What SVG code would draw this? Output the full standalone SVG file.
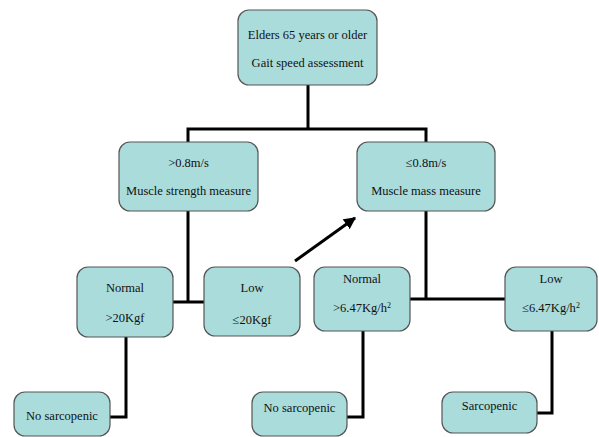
<svg xmlns="http://www.w3.org/2000/svg" width="599" height="437" viewBox="0 0 599 437">
<style>
.box{fill:#aadcdc;stroke:#555;stroke-width:1.2}
.t{font-family:'Liberation Serif','Times New Roman','DejaVu Serif',Times,serif;font-size:12.5px;fill:#111;text-anchor:middle}
.c{fill:none;stroke:#000;stroke-width:3}
</style>
<defs>
<marker id="ah" viewBox="0 0 10 10" refX="9" refY="5" markerWidth="4" markerHeight="4" orient="auto" markerUnits="strokeWidth">
<path d="M0,0 L10,5 L0,10 z" fill="#000"/>
</marker>
</defs>
<rect width="599" height="437" fill="#fff"/>
<g id="connectors">
<path class="c" d="M308,85 V129 M188,129 H426 M188,127.5 V142 M426,127.5 V142"/>
<path class="c" d="M188,211 V302 M173,302 H204"/>
<path class="c" d="M426,211 V299 M410,299 H505"/>
<path class="c" d="M126,337 V417 H110"/>
<path class="c" d="M363,331 V417 H347"/>
<path class="c" d="M552,331 V413 H537"/>
<line x1="295" y1="261" x2="355" y2="218" stroke="#000" stroke-width="3" marker-end="url(#ah)"/>
</g>
<g id="top">
<rect class="box" x="238" y="10" width="139" height="75" rx="11"/>
<text class="t" x="307.5" y="39" font-family="Liberation Serif, serif">Elders 65 years or older</text>
<text class="t" x="307.5" y="67" font-family="Liberation Serif, serif">Gait speed assessment</text>
</g>
<g id="fast">
<rect class="box" x="119" y="142" width="139" height="69" rx="11"/>
<text class="t" x="188.5" y="167">&gt;0.8m/s</text>
<text class="t" x="188.5" y="195">Muscle strength measure</text>
</g>
<g id="slow">
<rect class="box" x="357" y="142" width="138" height="69" rx="11"/>
<text class="t" x="426" y="167">≤0.8m/s</text>
<text class="t" x="426" y="195">Muscle mass measure</text>
</g>
<g id="strength-normal">
<rect class="box" x="77" y="267" width="96" height="70" rx="11"/>
<text class="t" x="125" y="292">Normal</text>
<text class="t" x="125" y="322">&gt;20Kgf</text>
</g>
<g id="strength-low">
<rect class="box" x="204" y="267" width="96" height="69" rx="11"/>
<text class="t" x="252" y="292">Low</text>
<text class="t" x="252" y="324">≤20Kgf</text>
</g>
<g id="mass-normal">
<rect class="box" x="314" y="267" width="96" height="64" rx="11"/>
<text class="t" x="362" y="283">Normal</text>
<text class="t" x="362" y="312">&gt;6.47Kg/h<tspan font-size="8" dy="-4">2</tspan></text>
</g>
<g id="mass-low">
<rect class="box" x="505" y="267" width="92" height="64" rx="11"/>
<text class="t" x="551" y="283">Low</text>
<text class="t" x="551" y="312">≤6.47Kg/h<tspan font-size="8" dy="-4">2</tspan></text>
</g>
<g id="nosarc1">
<rect class="box" x="14" y="392" width="96" height="44" rx="11"/>
<text class="t" x="62" y="420">No sarcopenic</text>
</g>
<g id="nosarc2">
<rect class="box" x="252" y="392" width="95" height="44" rx="11"/>
<text class="t" x="299.5" y="412">No sarcopenic</text>
</g>
<g id="sarc">
<rect class="box" x="442" y="392" width="95" height="41" rx="11"/>
<text class="t" x="489.5" y="410">Sarcopenic</text>
</g>
</svg>
